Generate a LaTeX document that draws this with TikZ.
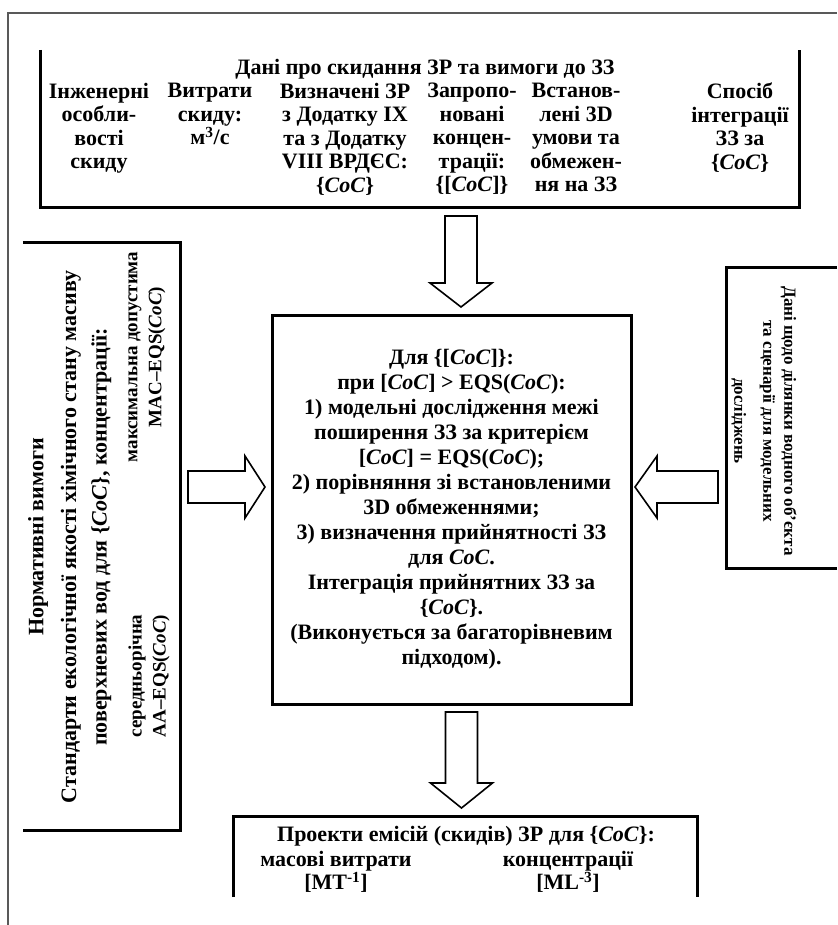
\documentclass[tikz,border=0pt]{standalone}
\usepackage{fontspec}
\setmainfont{Liberation Serif}

\newcommand{\CoC}{\textit{CoC}}

\tikzset{
  txt/.style={font=\bfseries\fontsize{22}{23.5}\selectfont, align=center, inner sep=0pt},
  coltxt/.style={font=\bfseries\fontsize{19}{24}\selectfont, align=center, inner sep=0pt},
  smalltxt/.style={font=\bfseries\fontsize{17}{21}\selectfont, align=center, inner sep=0pt},
  frame/.style={minimum width=#1, inner sep=0pt},
  edge/.style={line width=3pt},
  fatline/.style={line width=1.6pt, line join=miter},
}

\begin{document}
\begin{tikzpicture}[x=1pt,y=-1pt]
\useasboundingbox (0,0) rectangle (837,925);

\draw[gray!70!black, line width=1.2pt] (8,925) -- (8,13) -- (837,13);

% top box, open at the top
\node[frame=758pt, minimum height=157pt] (data) at (420,128.5) {};
\draw[edge] (data.north west) -- (data.south west) -- (data.south east) -- (data.north east);

\node[txt, anchor=north] (datatitle) at (425,59) {Дані про скидання ЗР та вимоги до ЗЗ};
\node[txt, anchor=north] (eng) at (99,83) {Інженерні\\особли-\\вості\\скиду};
\node[txt, anchor=north] (flow) at (210,83) {Витрати\\скиду:\\м\textsuperscript{3}/с};
\node[txt, anchor=north] (found) at (345,83) {Визначені ЗР\\з Додатку IX\\та з Додатку\\VIII ВРДЄС:\\\{\CoC\}};
\node[txt, anchor=north] (prop) at (472,83) {Запропо-\\новані\\концен-\\трації:\\\{[\CoC]\}};
\node[txt, anchor=north] (cond) at (576,83) {Встанов-\\лені 3D\\умови та\\обмежен-\\ня на ЗЗ};
\node[txt, anchor=north] (integ) at (740,83) {Спосіб\\інтеграції\\ЗЗ за\\\{\CoC\}};

% centre box
\node[draw, edge, minimum width=359pt, minimum height=389pt, txt, font=\bfseries\fontsize{22}{25}\selectfont] (rules) at (451.5,509.5)
  {Для \{[\CoC]\}:\\
   при [\CoC] > EQS(\CoC):\\
   1) модельні дослідження межі\\
   поширення ЗЗ за критерієм\\
   {}[\CoC] = EQS(\CoC);\\
   2) порівняння зі встановленими\\
   3D обмеженнями;\\
   3) визначення прийнятності ЗЗ\\
   для \CoC.\\
   Інтеграція прийнятних ЗЗ за\\
   \{\CoC\}.\\
   (Виконується за багаторівневим\\
   підходом).};

% left box, open at the left
\node[frame=157pt, minimum height=587pt] (norms) at (101.5,536.5) {};
\draw[edge] (norms.north west) -- (norms.north east) -- (norms.south east) -- (norms.south west);

\node[txt, rotate=90] (normtitle) at (38,537) {Нормативні вимоги};
\node[txt, rotate=90] (std) at (86,537) {Стандарти екологічної якості хімічного стану масиву\\[7pt]
  поверхневих вод для \{\CoC\}, концентрації:};
\node[coltxt, rotate=90] (mac) at (147,357) {максимальна допустима\\MAC--EQS(\CoC)};
\node[coltxt, rotate=90] (aa) at (149,676) {середньорічна\\AA--EQS(\CoC)};

% right box, open at the right
\node[frame=110pt, minimum height=300pt] (site) at (782,418) {};
\draw[edge] (site.north east) -- (site.north west) -- (site.south west) -- (site.south east);
\node[smalltxt, rotate=-90] (sitetext) at (764,421) {Дані щодо ділянки водного об’єкта\\
  та сценарії для модельних\\[8pt] досліджень};

% bottom box, open at the bottom
\node[frame=463pt, minimum height=80pt] (emis) at (465.5,857) {};
\draw[edge] (emis.south west) -- (emis.north west) -- (emis.north east) -- (emis.south east);
\node[txt] (emistitle) at (466,836) {Проекти емісій (скидів) ЗР для \{\CoC\}:};
\node[txt] (mass) at (336,872) {масові витрати\\{}[MT\textsuperscript{-1}]};
\node[txt] (conc) at (568,872) {концентрації\\{}[ML\textsuperscript{-3}]};

% block arrows
\coordinate (a1) at (461,216);
\coordinate (a2) at (188,487);
\coordinate (a3) at (718,487);
\coordinate (a4) at (461.5,712);

\draw[fatline] (a1) ++(-16,0) -- ++(0,67) -- ++(-15,0) -- ++(31,24) -- ++(31,-24) -- ++(-15,0) -- ++(0,-67) -- cycle;
\draw[fatline] (a2) ++(0,-16) -- ++(57,0) -- ++(0,-15) -- ++(20,31) -- ++(-20,31) -- ++(0,-15) -- ++(-57,0) -- cycle;
\draw[fatline] (a3) ++(0,-16) -- ++(-61,0) -- ++(0,-15) -- ++(-22,31) -- ++(22,31) -- ++(0,-15) -- ++(61,0) -- cycle;
\draw[fatline] (a4) ++(-16,0) -- ++(0,71) -- ++(-15,0) -- ++(31,25) -- ++(31,-25) -- ++(-15,0) -- ++(0,-71) -- cycle;

\end{tikzpicture}
\end{document}
